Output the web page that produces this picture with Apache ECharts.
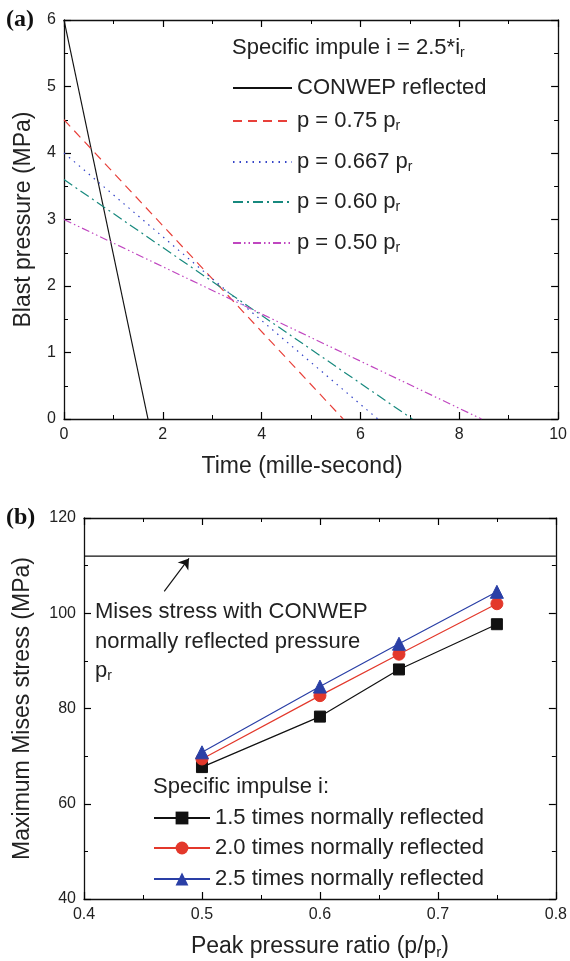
<!DOCTYPE html>
<html><head><meta charset="utf-8">
<script src="https://cdn.jsdelivr.net/npm/echarts@6/dist/echarts.min.js"></script>
<style>html,body{margin:0;padding:0;background:#fff}#c{width:570px;height:961px}</style>
</head><body><div id="c"></div>
<script>
// ---- Panel (a) data ----
const topNames = ['CONWEP reflected', 'p = 0.75 pr', 'p = 0.667 pr', 'p = 0.60 pr', 'p = 0.50 pr'];
const topPeakP = [6.0, 4.5, 4.0, 3.6, 3.0];      // pressure at t = 0 (MPa)
const topEndT = [1.7, 5.65, 6.35, 7.05, 8.45];   // time where pressure reaches 0 (ms)
const topColors = ['#111111', '#e8403a', '#3545c8', '#17897e', '#c046c0'];
const topDash = ['solid', [9, 6], [1.5, 5], [10, 4, 2, 4], [8, 3, 1.5, 3, 1.5, 3]];
const timeTicks = [0, 2, 4, 6, 8, 10];
const pressureTicks = [0, 1, 2, 3, 4, 5, 6];

// ---- Panel (b) data ----
const ratios = [0.5, 0.6, 0.667, 0.75];
const mises15 = [67.7, 78.3, 88.2, 97.7];
const mises20 = [69.4, 82.7, 91.4, 102.0];
const mises25 = [70.8, 84.6, 93.6, 104.5];
const conwepMises = 112;
const ratioTicks = [0.4, 0.5, 0.6, 0.7, 0.8];
const stressTicks = [40, 60, 80, 100, 120];
const botNames = ['1.5 times normally reflected', '2.0 times normally reflected', '2.5 times normally reflected'];

const FONT = '"Liberation Sans", Arial, sans-serif';
const chart = echarts.init(document.getElementById('c'), null, {renderer: 'canvas'});

const subFmt = n => n.replace(/ pr$/, ' p{sub|r}');
const richSub = {sub: {fontSize: 14, fontFamily: FONT, color: '#222', padding: [10, 0, 0, 0]}};

function axisBase(extra) {
  return Object.assign({
    type: 'value',
    axisLine: {show: true, onZero: false, lineStyle: {color: '#111', width: 1.3}},
    axisTick: {show: true, inside: true, length: 7, lineStyle: {color: '#000', width: 1.2}},
    minorTick: {show: true, splitNumber: 2, length: 4, lineStyle: {color: '#000', width: 1}},
    splitLine: {show: false},
    axisLabel: {color: '#222', fontSize: 16, fontFamily: FONT, margin: 8},
    nameTextStyle: {color: '#222', fontSize: 23, fontFamily: FONT, rich: {sub: {fontSize: 15, fontFamily: FONT, color: '#222', padding: [12, 0, 0, 0]}}}
  }, extra);
}

const series = [];
topNames.forEach((n, i) => {
  series.push({
    name: n, type: 'line', xAxisIndex: 0, yAxisIndex: 0,
    data: [[0, topPeakP[i]], [topEndT[i], 0]],
    showSymbol: false, symbol: 'none', silent: true, animation: false,
    lineStyle: {color: topColors[i], width: 1.2, type: topDash[i]},
    itemStyle: {color: topColors[i]}
  });
});
const botSets = [mises15, mises20, mises25];
const botColors = ['#111111', '#e3382b', '#2a3fa6'];
const botSymbols = ['rect', 'circle', 'triangle'];
const botSizes = [11, 12, 13];
botSets.forEach((arr, i) => {
  series.push({
    name: botNames[i], type: 'line', xAxisIndex: 2, yAxisIndex: 2,
    data: ratios.map((r, k) => [r, arr[k]]),
    symbol: botSymbols[i], symbolSize: botSizes[i], showSymbol: true, animation: false,
    lineStyle: {color: botColors[i], width: 1.2},
    itemStyle: {color: botColors[i], borderColor: botColors[i]}
  });
});
series.push({
  name: 'conwep', type: 'line', xAxisIndex: 2, yAxisIndex: 2,
  data: [[0.4, conwepMises], [0.8, conwepMises]],
  symbol: 'none', animation: false, lineStyle: {color: '#111', width: 1.2}
});
series.push({
  type: 'lines', coordinateSystem: 'cartesian2d', xAxisIndex: 2, yAxisIndex: 2,
  data: [{coords: [[0.468, 104.6], [0.489, 111.5]]}],
  symbol: ['none', 'arrow'], symbolSize: 10, animation: false,
  lineStyle: {color: '#111', width: 1.2, opacity: 1, curveness: 0}
});

// legend rows: top panel (line centre y), bottom panel
const topLegendY = [88, 121, 162, 202, 243];
const botLegendY = [818, 848, 879];
const legends = [];
topNames.forEach((n, i) => {
  legends.push({
    data: [n], left: 232, top: topLegendY[i] - 11, padding: 0, itemWidth: 59, itemHeight: 12,
    selectedMode: false, itemStyle: {opacity: 0},
    textStyle: {color: '#222', fontSize: 22, fontFamily: FONT, rich: richSub},
    formatter: subFmt
  });
});
botNames.forEach((n, i) => {
  legends.push({
    data: [n], left: 153, top: botLegendY[i] - 11, padding: 0, itemWidth: 56, itemHeight: 16,
    selectedMode: false,
    textStyle: {color: '#222', fontSize: 22, fontFamily: FONT}
  });
});

const option = {
  backgroundColor: '#fff',
  animation: false,
  textStyle: {fontFamily: FONT},
  grid: [
    {left: 64, top: 20, width: 499, height: 399},
    {left: 84, top: 518, width: 474, height: 381}
  ],
  xAxis: [
    axisBase({gridIndex: 0, min: 0, max: 10, interval: 2, name: 'Time (mille-second)', nameLocation: 'middle', nameGap: 36,
      nameTextStyle: {color: '#222', fontSize: 23, fontFamily: FONT, padding: [0, 18, 0, 0]}}),
    axisBase({gridIndex: 0, min: 0, max: 10, interval: 2, position: 'top', axisLabel: {show: false}}),
    axisBase({gridIndex: 1, min: 0.4, max: 0.8, interval: 0.1, name: 'Peak pressure ratio (p/p{sub|r})', nameLocation: 'middle', nameGap: 34,
      axisLabel: {color: '#222', fontSize: 16, fontFamily: FONT, margin: 8, formatter: v => v.toFixed(1)}}),
    axisBase({gridIndex: 1, min: 0.4, max: 0.8, interval: 0.1, position: 'top', axisLabel: {show: false}})
  ],
  yAxis: [
    axisBase({gridIndex: 0, min: 0, max: 6, interval: 1, name: 'Blast pressure (MPa)', nameLocation: 'middle', nameGap: 29}),
    axisBase({gridIndex: 0, min: 0, max: 6, interval: 1, position: 'right', axisLabel: {show: false}}),
    axisBase({gridIndex: 1, min: 40, max: 120, interval: 20, name: 'Maximum Mises stress (MPa)', nameLocation: 'middle', nameGap: 50}),
    axisBase({gridIndex: 1, min: 40, max: 120, interval: 20, position: 'right', axisLabel: {show: false}})
  ],
  legend: legends,
  graphic: [
    {type: 'text', left: 6, top: 8, style: {text: '(a)', font: 'bold 24px "Liberation Serif", serif', fill: '#111'}},
    {type: 'text', left: 6, top: 506, style: {text: '(b)', font: 'bold 24px "Liberation Serif", serif', fill: '#111'}},
    {type: 'text', left: 232, top: 37, style: {text: 'Specific impule i = 2.5*i{sub|r}', font: '22px ' + FONT, fill: '#222',
      rich: {sub: {fontSize: 14, fontFamily: FONT, fill: '#222', padding: [10, 0, 0, 0]}}}},
    {type: 'text', left: 95, top: 601, style: {text: 'Mises stress with CONWEP', font: '22px ' + FONT, fill: '#222'}},
    {type: 'text', left: 95, top: 631, style: {text: 'normally reflected pressure', font: '22px ' + FONT, fill: '#222'}},
    {type: 'text', left: 95, top: 660, style: {text: 'p{sub|r}', font: '22px ' + FONT, fill: '#222',
      rich: {sub: {fontSize: 14, fontFamily: FONT, fill: '#222', padding: [10, 0, 0, 0]}}}},
    {type: 'text', left: 153, top: 776, style: {text: 'Specific impulse i:', font: '22px ' + FONT, fill: '#222'}}
  ],
  series: series
};
chart.setOption(option);
</script>
</body></html>
